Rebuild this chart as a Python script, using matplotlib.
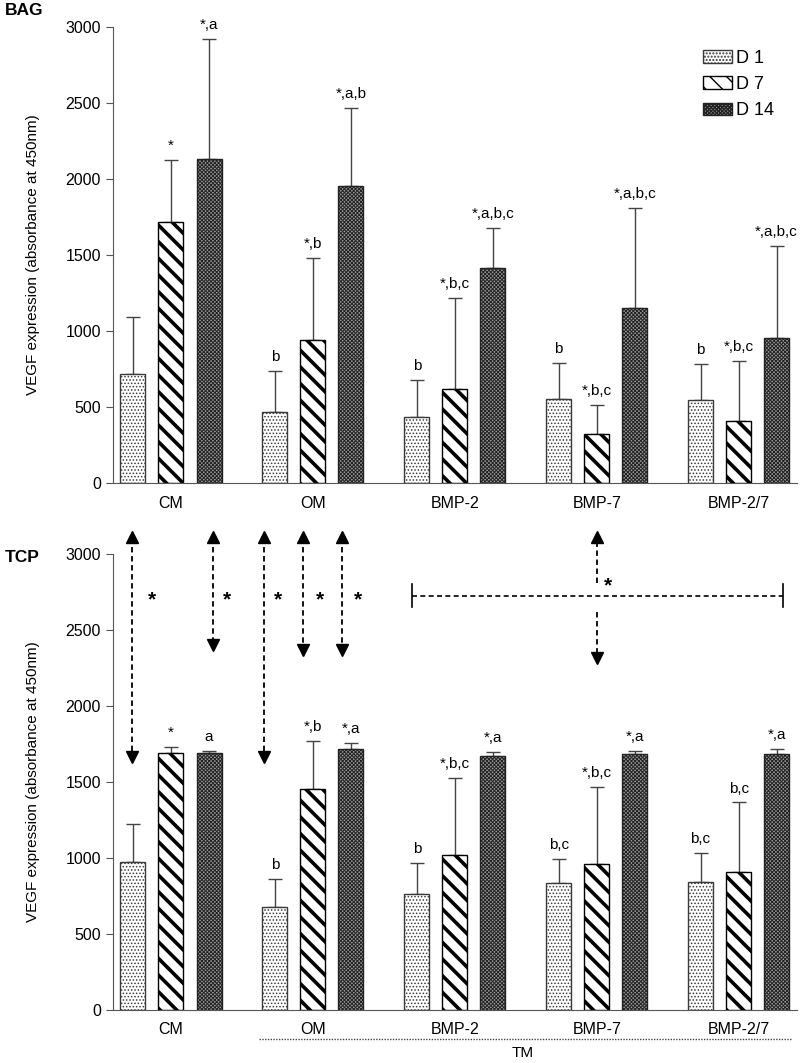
import numpy as np
import matplotlib
matplotlib.use('Agg')
import matplotlib.pyplot as plt
from matplotlib.patches import Patch

plt.rcParams['font.family'] = ['Liberation Sans', 'DejaVu Sans']

groups = ['CM', 'OM', 'BMP-2', 'BMP-7', 'BMP-2/7']
days = ['D 1', 'D 7', 'D 14']

# BAG (top panel): means and upper error (mean + SD) per day
bag_d1 = [720, 470, 435, 550, 545]
bag_d7 = [1720, 940, 620, 325, 410]
bag_d14 = [2130, 1955, 1415, 1150, 955]
bag_d1_top = [1092, 737, 680, 790, 785]
bag_d7_top = [2128, 1480, 1220, 515, 800]
bag_d14_top = [2919, 2467, 1678, 1810, 1559]
bag_d1_lab = ['', 'b', 'b', 'b', 'b']
bag_d7_lab = ['*', '*,b', '*,b,c', '*,b,c', '*,b,c']
bag_d14_lab = ['*,a', '*,a,b', '*,a,b,c', '*,a,b,c', '*,a,b,c']

# TCP (bottom panel)
tcp_d1 = [975, 678, 763, 835, 844]
tcp_d7 = [1690, 1455, 1020, 963, 910]
tcp_d14 = [1690, 1715, 1670, 1685, 1685]
tcp_d1_top = [1225, 862, 967, 993, 1035]
tcp_d7_top = [1730, 1770, 1525, 1465, 1365]
tcp_d14_top = [1705, 1755, 1695, 1705, 1715]
tcp_d1_lab = ['', 'b', 'b', 'b,c', 'b,c']
tcp_d7_lab = ['*', '*,b', '*,b,c', '*,b,c', 'b,c']
tcp_d14_lab = ['a', '*,a', '*,a', '*,a', '*,a']

# dashed comparison arrows in TCP panel: x, top tip, bottom tip, star x
arrow_x = [-0.275, 0.296, 0.655, 0.93, 1.204]
arrow_top = [3145, 3145, 3145, 3145, 3145]
arrow_bot = [1632, 2368, 1632, 2335, 2335]
star_x = [-0.134, 0.394, 0.754, 1.05, 1.317]
star_y = 2700

hatches = ['.....', '\\\\', 'xxxxxxxxx']
faces = ['white', 'white', '#9a9a9a']
edges = ['#3a3a3a', 'black', '#222222']

x = np.arange(len(groups))
w = 0.176
off = 0.268

fig = plt.figure(figsize=(8, 10.63), dpi=100)
ax1 = fig.add_axes([0.141, 0.5456, 0.855, 0.429])
ax2 = fig.add_axes([0.141, 0.0499, 0.855, 0.429])


def panel(ax, means, tops, labs):
    for i in range(3):
        xs = x + (i - 1) * off
        bars = ax.bar(xs, means[i], w, color=faces[i], edgecolor=edges[i],
                      hatch=hatches[i], linewidth=1, zorder=2)
        for b in bars:
            if hasattr(b, 'set_hatch_linewidth'):
                b.set_hatch_linewidth(2.6 if i == 1 else 0.7)
        up = np.array(tops[i]) - np.array(means[i])
        ax.errorbar(xs, means[i], yerr=[np.zeros(len(xs)), up], fmt='none',
                    ecolor='#444444', elinewidth=1, capsize=5, capthick=1, zorder=1)
        for xx, t, s in zip(xs, tops[i], labs[i]):
            if s:
                ax.annotate(s, (xx, t), xytext=(0, 5), textcoords='offset points',
                            ha='center', va='bottom', fontsize=11)
    ax.set_xlim(-0.41, 4.41)
    ax.set_ylim(0, 3000)
    ax.set_yticks([0, 500, 1000, 1500, 2000, 2500, 3000])
    ax.set_xticks(x)
    ax.set_xticklabels(groups, fontsize=11.5)
    ax.tick_params(axis='x', length=0, pad=9)
    ax.tick_params(axis='y', labelsize=11.5, length=5, color='#555555')
    for s in ['top', 'right']:
        ax.spines[s].set_visible(False)
    for s in ['left', 'bottom']:
        ax.spines[s].set_color('#555555')
    ax.set_ylabel('VEGF expression (absorbance at 450nm)', fontsize=11)
    ax.yaxis.set_label_coords(-0.107, 0.5)


panel(ax1, [bag_d1, bag_d7, bag_d14], [bag_d1_top, bag_d7_top, bag_d14_top],
      [bag_d1_lab, bag_d7_lab, bag_d14_lab])
panel(ax2, [tcp_d1, tcp_d7, tcp_d14], [tcp_d1_top, tcp_d7_top, tcp_d14_top],
      [tcp_d1_lab, tcp_d7_lab, tcp_d14_lab])

# legend
handles = []
for i in range(3):
    p = Patch(facecolor=faces[i], edgecolor=edges[i], hatch=hatches[i], label=days[i])
    handles.append(p)
ax1.legend(handles=handles, loc='upper right', bbox_to_anchor=(0.99, 0.985),
           frameon=False, fontsize=13, handlelength=1.6, handleheight=0.7,
           handletextpad=0.2, labelspacing=0.5)

# dashed arrows
for ax_x, t, b in zip(arrow_x, arrow_top, arrow_bot):
    ax2.plot([ax_x, ax_x], [t - 40, b + 40], ls=(0, (3, 2)), color='black',
             lw=1.3, clip_on=False)
    ax2.plot(ax_x, t - 35, marker='^', ms=8, color='black', clip_on=False)
    ax2.plot(ax_x, b + 35, marker='v', ms=8, color='black', clip_on=False)
for sx in star_x:
    ax2.text(sx, star_y, '*', ha='center', va='center', fontsize=15, fontweight='bold')

# horizontal comparison across the BMP groups
ax2.plot([1.70, 4.31], [2723, 2723], ls=(0, (3, 2)), color='black', lw=1.2, clip_on=False)
ax2.plot([1.70, 1.70], [2650, 2800], color='black', lw=1.2)
ax2.plot([4.31, 4.31], [2650, 2800], color='black', lw=1.2)
ax2.plot([3.0, 3.0], [2809, 3110], ls=(0, (3, 2)), color='black', lw=1.3, clip_on=False)
ax2.plot(3.0, 3110, marker='^', ms=8, color='black', clip_on=False)
ax2.plot([3.0, 3.0], [2618, 2320], ls=(0, (3, 2)), color='black', lw=1.3)
ax2.plot(3.0, 2318, marker='v', ms=8, color='black')
ax2.text(3.08, 2790, '*', ha='center', va='center', fontsize=15, fontweight='bold')

# TM bracket under OM..BMP-2/7
ax2.plot([0.62, 4.37], [-0.064, -0.064], transform=ax2.get_xaxis_transform(),
         ls=(0, (1, 1)), color='#444444', lw=1, clip_on=False)
ax2.text(2.48, -0.094, 'TM', transform=ax2.get_xaxis_transform(),
         ha='center', va='center', fontsize=11)

fig.text(0.006, 0.99, 'BAG', fontsize=12.5, fontweight='bold', va='center')
fig.text(0.006, 0.476, 'TCP', fontsize=12.5, fontweight='bold', va='center')

fig.savefig('out.png', dpi=100)
